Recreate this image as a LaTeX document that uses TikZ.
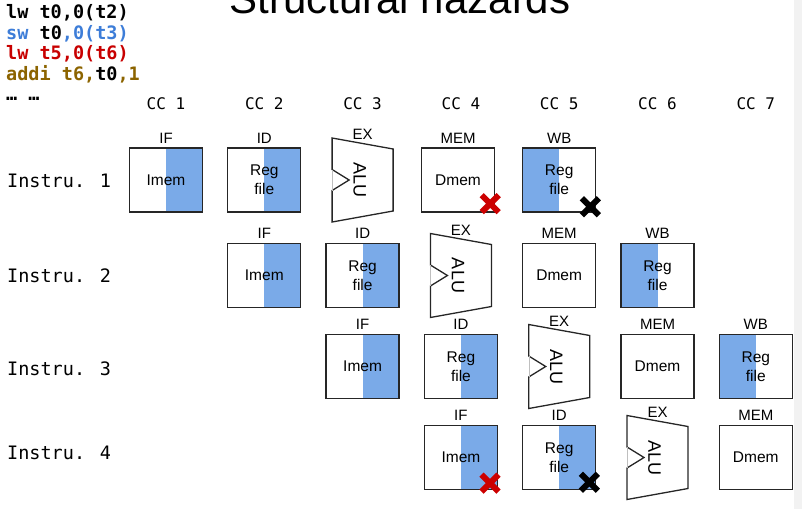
\documentclass[tikz,border=0pt]{standalone}
\usepackage{fontspec}
\setmainfont{Liberation Sans}
\newfontfamily\codefont{DejaVu Sans Mono}
\usepackage{xcolor}
\usetikzlibrary{positioning, calc}
\definecolor{regblue}{HTML}{7AAAE8}
\definecolor{asmblue}{HTML}{3D7DD8}
\definecolor{asmred}{HTML}{C80000}
\definecolor{asmbrown}{HTML}{8C6400}
\definecolor{hazred}{HTML}{CC0000}
\newcommand{\unitfont}{\fontsize{15.5}{19}\selectfont}
\newcommand{\stagefont}{\fontsize{15}{18}\selectfont}

\begin{document}
\begin{tikzpicture}[
    x=1pt, y=1pt,
    unit/.style={rectangle, draw=black!85, line width=1.3pt, fill=white,
                 minimum width=73pt, minimum height=64pt, inner sep=0pt,
                 align=center, font=\unitfont},
    imem/.style={unit, path picture={\fill[regblue] (path picture bounding box.north)
                 rectangle (path picture bounding box.south east);}},
    wbreg/.style={unit, path picture={\fill[regblue] (path picture bounding box.south west)
                 rectangle (path picture bounding box.north);}},
    stage/.style={font=\stagefont, inner sep=0pt, text depth=0pt},
    boxlbl/.style={stage, yshift=4pt},
    code/.style={font=\codefont\bfseries\fontsize{18.5}{22}\selectfont, anchor=base west, inner sep=0pt},
    instr/.style={font=\codefont\fontsize{18.5}{22}\selectfont, anchor=base west, inner sep=0pt},
    cc/.style={font=\codefont\fontsize{16}{19}\selectfont, anchor=base, inner sep=0pt},
    alu/.pic={
        \draw[black!85, line width=1.3pt, line join=miter]
            (-30.5,42) -- (30.5,31) -- (30.5,-31) -- (-30.5,-42)
            -- (-30.5,-10.5) -- (-13.5,0) -- (-30.5,10.5) -- cycle;
        \draw[black!25, thin] (-30.5,10.5) -- (-30.5,-10.5);
        \node[rotate=-90, font=\fontsize{18}{20}\selectfont, inner sep=0pt] (-txt) at (-3,0) {ALU};
        \node[stage, anchor=base] (-lbl) at (0,40.5) {EX};
    },
    cross/.pic={
        \draw[line width=6pt] (-8.5,-8.5) -- (8.5,8.5) (-8.5,8.5) -- (8.5,-8.5);
    }
]
\useasboundingbox (0,0) rectangle (802,-509);
\clip (0,0) rectangle (802,-509);
\fill[black!5] (794,0) rectangle (802,-509);

% title, cut at the top edge
\node[font=\fontsize{42}{50}\selectfont, anchor=base, inner sep=0pt] (title) at (400,-13) {Structural hazards};

% instruction sequence
\node[code] (asm1) at (6,-18.5) {lw t0,0(t2)};
\node[code] (asm2) at (6,-39) {\textcolor{asmblue}{sw} t0\textcolor{asmblue}{,0(t3)}};
\node[code, text=asmred] (asm3) at (6,-59.5) {lw t5,0(t6)};
\node[code, text=asmbrown] (asm4) at (6,-80.5) {addi t6,\textcolor{black}{t0},1};
\node[code] (asm5) at (6,-100.5) {… …};

% clock cycles
\foreach \k/\x in {1/166, 2/264.3, 3/362.6, 4/460.9, 5/559.2, 6/657.5, 7/755.8}
    \node[cc] (cc\k) at (\x,-109.5) {CC \k};

\node[instr] (in1) at (7,-187) {Instru. 1};
\node[instr] (in2) at (7,-282) {Instru. 2};
\node[instr] (in3) at (7,-375.5) {Instru. 3};
\node[instr] (in4) at (7,-459) {Instru. 4};

% instruction 1
\node[imem, label={[boxlbl]above:IF}] (if1) at (166,-180) {Imem};
\node[imem, label={[boxlbl]above:ID}] (id1) at (264.3,-180) {Reg\\file};
\pic (ex1) at (362.6,-180) {alu};
\node[unit, label={[boxlbl]above:MEM}] (mem1) at (458,-180) {Dmem};
\node[wbreg, label={[boxlbl]above:WB}] (wb1) at (559.2,-180) {Reg\\file};

% instruction 2
\node[imem, label={[boxlbl]above:IF}] (if2) at (264.3,-275.5) {Imem};
\node[imem, label={[boxlbl]above:ID}] (id2) at (362.6,-275.5) {Reg\\file};
\pic (ex2) at (460.9,-275.5) {alu};
\node[unit, label={[boxlbl]above:MEM}] (mem2) at (559.2,-275.5) {Dmem};
\node[wbreg, label={[boxlbl]above:WB}] (wb2) at (657.5,-275.5) {Reg\\file};

% instruction 3
\node[imem, label={[boxlbl]above:IF}] (if3) at (362.6,-366.5) {Imem};
\node[imem, label={[boxlbl]above:ID}] (id3) at (460.9,-366.5) {Reg\\file};
\pic (ex3) at (559.2,-366.5) {alu};
\node[unit, label={[boxlbl]above:MEM}] (mem3) at (657.5,-366.5) {Dmem};
\node[wbreg, label={[boxlbl]above:WB}] (wb3) at (755.8,-366.5) {Reg\\file};

% instruction 4
\node[imem, label={[boxlbl]above:IF}] (if4) at (460.9,-457.5) {Imem};
\node[imem, label={[boxlbl]above:ID}] (id4) at (559.2,-457.5) {Reg\\file};
\pic (ex4) at (657.5,-457.5) {alu};
\node[unit, label={[boxlbl]above:MEM}] (mem4) at (755.8,-457.5) {Dmem};

% conflicts
\pic[color=hazred] at ([shift={(-5,9)}]mem1.south east) {cross};
\pic[color=black] at ([shift={(-6,6)}]wb1.south east) {cross};
\pic[color=hazred] at ([shift={(-8,7)}]if4.south east) {cross};
\pic[color=black] at ([shift={(-7,8)}]id4.south east) {cross};
\end{tikzpicture}
\end{document}
